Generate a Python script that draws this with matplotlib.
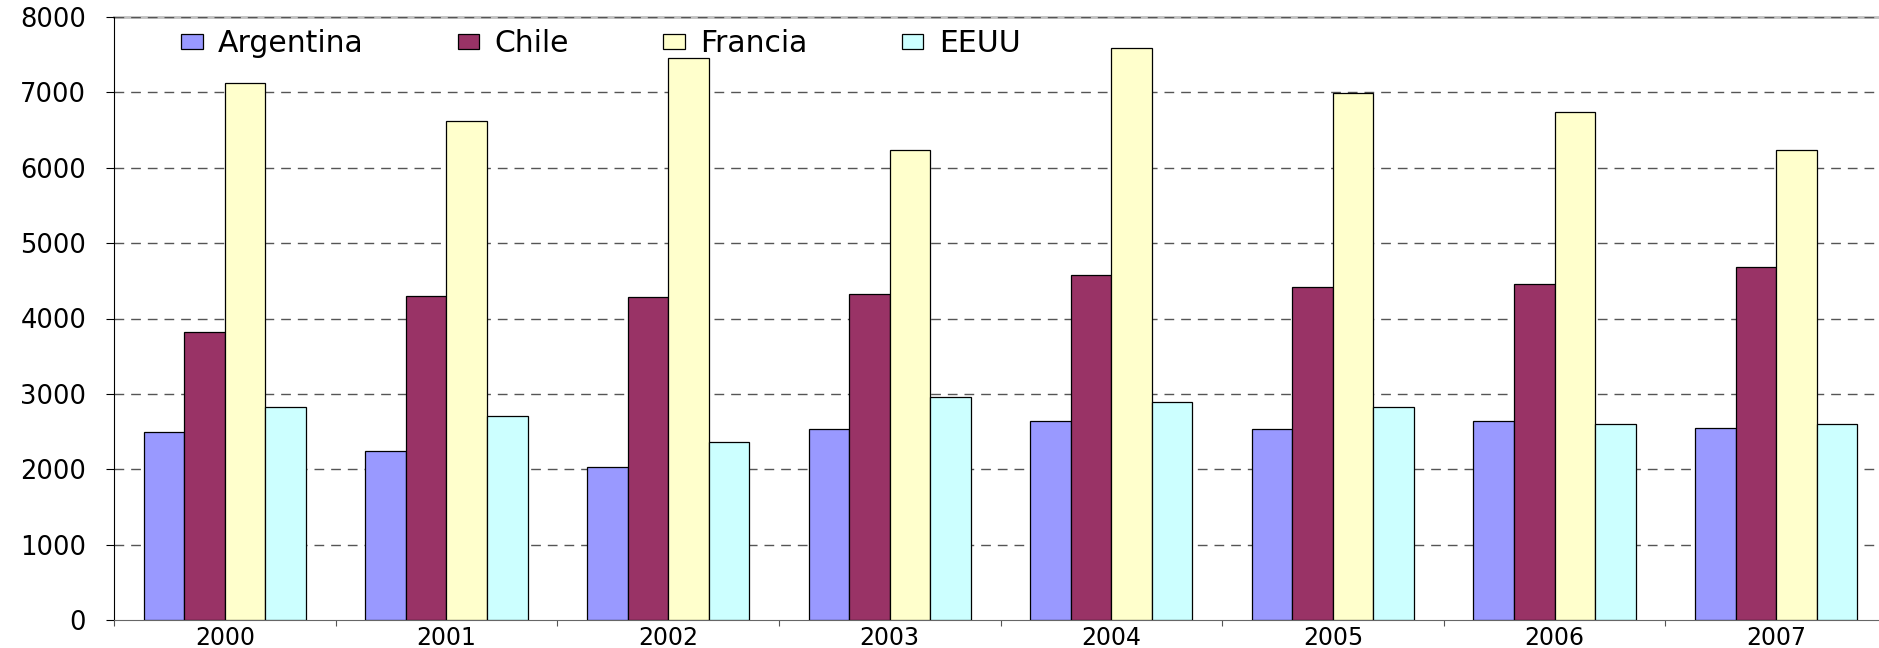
import matplotlib
matplotlib.use("Agg")
import matplotlib.pyplot as plt
import numpy as np

years = ["2000", "2001", "2002", "2003", "2004", "2005", "2006", "2007"]
countries = ["Argentina", "Chile", "Francia", "EEUU"]
argentina = [2500, 2240, 2030, 2530, 2635, 2530, 2635, 2545]
chile = [3815, 4295, 4280, 4330, 4575, 4415, 4460, 4685]
francia = [7120, 6625, 7455, 6240, 7585, 6990, 6745, 6240]
eeuu = [2825, 2705, 2360, 2960, 2890, 2825, 2595, 2595]
yticks = [0, 1000, 2000, 3000, 4000, 5000, 6000, 7000, 8000]

colors = ["#9999FF", "#993366", "#FFFFCC", "#CCFFFF"]
series = [argentina, chile, francia, eeuu]

plt.rcParams["lines.scale_dashes"] = False
fig = plt.figure(figsize=(18.79, 6.48), dpi=100)
ax = fig.add_axes([114 / 1879, 28 / 648, (1887 - 114) / 1879, 603 / 648])

x = np.arange(len(years)) + 0.5
w = 0.183
for k, (vals, col, lab) in enumerate(zip(series, colors, countries)):
    ax.bar(x + (k - 1.5) * w, vals, width=w, color=col, edgecolor="black",
           linewidth=0.9, label=lab, zorder=3)

ax.set_xlim(0, len(years))
ax.set_ylim(0, 8000)
ax.set_yticks(yticks)
ax.set_yticklabels([str(v) for v in yticks], fontsize=18.5)
ax.set_xticks(np.arange(len(years) + 1))
ax.set_xticklabels([])
ax.set_xticks(x, minor=True)
ax.set_xticklabels(years, minor=True, fontsize=17)
ax.tick_params(axis="x", which="major", length=4, direction="out", color="#555555")
ax.tick_params(axis="x", which="minor", length=0, pad=4)
ax.tick_params(axis="y", length=6, direction="out", pad=14)

for v in yticks[1:]:
    ax.axhline(v, color="#555555", lw=1.0, ls=(0, (7, 5)), zorder=1)

ax.spines["right"].set_visible(False)
ax.spines["top"].set_color("#c0c0c0")
ax.spines["top"].set_linewidth(2)
ax.spines["top"].set_zorder(0)
ax.spines["bottom"].set_color("#666666")
ax.spines["left"].set_color("black")

ax.legend(loc="upper left", bbox_to_anchor=(0.026, 1.014), ncol=4, frameon=False,
          fontsize=21.5, columnspacing=3.15, handlelength=0.72, handleheight=0.41,
          handletextpad=0.52, borderaxespad=0.3)

fig.savefig("out.png", dpi=100)
